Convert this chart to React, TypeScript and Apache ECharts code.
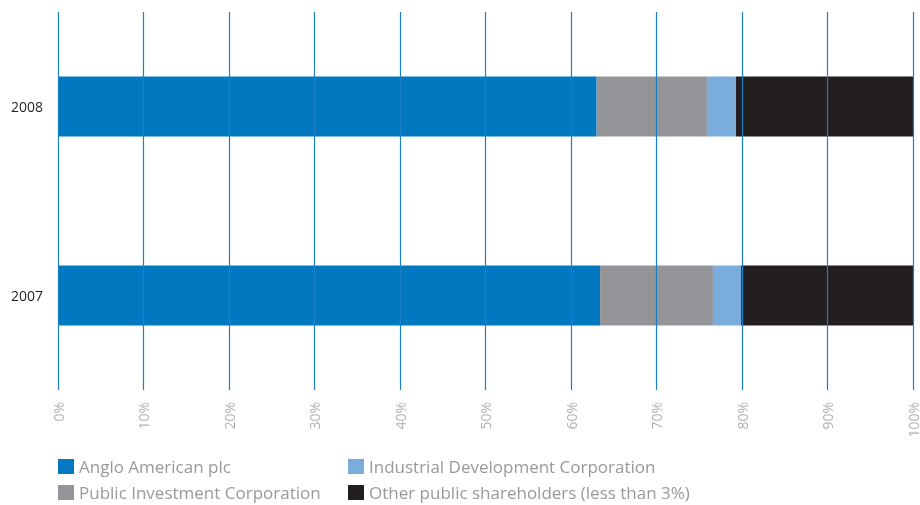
import React, { useEffect, useRef } from "react";
import * as echarts from "echarts";

const categories = ["2007", "2008"];
const seriesNames = [
  "Anglo American plc",
  "Public Investment Corporation",
  "Industrial Development Corporation",
  "Other public shareholders (less than 3%)",
];
const angloAmerican = [63.4, 63.0];
const publicInvestment = [13.2, 12.9];
const industrialDevelopment = [3.3, 3.4];
const otherShareholders = [20.1, 20.7];
const colors = ["#0079c1", "#939598", "#7aaddc", "#231f20"];
const xTicks = [0, 10, 20, 30, 40, 50, 60, 70, 80, 90, 100];

export default function App() {
  const ref = useRef<HTMLDivElement>(null);
  useEffect(() => {
    if (!ref.current) return;
    const chart = echarts.init(ref.current, null, { renderer: "svg" });
    const values = [angloAmerican, publicInvestment, industrialDevelopment, otherShareholders];
    const font = "'Open Sans', 'Noto Sans', sans-serif";
    const legendPos = [
      { left: 58, top: 458 },
      { left: 58, top: 484 },
      { left: 348, top: 458 },
      { left: 348, top: 484 },
    ];
    chart.setOption({
      animation: false,
      textStyle: { fontFamily: font },
      grid: { left: 58, right: 6, top: 12, bottom: 115 },
      xAxis: {
        type: "value",
        min: xTicks[0],
        max: xTicks[xTicks.length - 1],
        interval: 10,
        z: 5,
        axisLine: { show: false },
        axisTick: { show: false },
        splitLine: { show: true, lineStyle: { color: "#1a80c6", width: 1.2 } },
        axisLabel: {
          rotate: 90,
          margin: 12,
          color: "#b0b0b0",
          fontSize: 14,
          fontFamily: font,
          formatter: (v: number) => v + "%",
        },
      },
      yAxis: {
        type: "category",
        data: categories,
        axisLine: { show: false },
        axisTick: { show: false },
        axisLabel: { color: "#231f20", fontSize: 14, margin: 15, fontFamily: font },
      },
      legend: seriesNames.map((name, i) => ({
        left: legendPos[i].left,
        top: legendPos[i].top,
        padding: 0,
        itemWidth: 16,
        itemHeight: 15,
        itemGap: 0,
        icon: "rect",
        data: [name],
        textStyle: {
          color: "#999999",
          fontSize: 17,
          lineHeight: 15,
          padding: [0, 0, 0, 0],
          fontFamily: font,
        },
      })),
      series: seriesNames.map((name, i) => ({
        name,
        type: "bar",
        stack: "total",
        barWidth: 60,
        itemStyle: { color: colors[i] },
        data: values[i],
        z: 2,
      })),
    });
    return () => chart.dispose();
  }, []);
  return (
    <div
      ref={ref}
      style={{ position: "fixed", left: 0, top: 0, width: 920, height: 505 }}
    />
  );
}
